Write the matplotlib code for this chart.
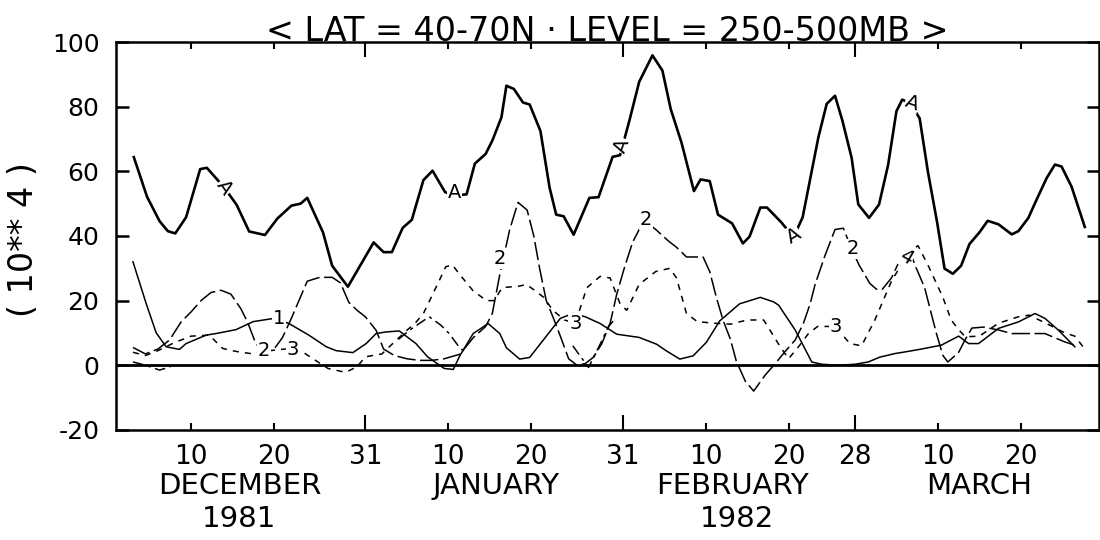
import numpy as np
import matplotlib
matplotlib.use("Agg")
import matplotlib.pyplot as plt

# day 1 = 1 December 1981
plt.rcParams['font.family'] = ['DejaVu Sans']
plt.rcParams['axes.unicode_minus'] = False

# total (A)
days_a = [3.1, 4.7, 6.2, 7.2, 8.1, 9.4, 11.1, 11.9, 14, 15.5, 17, 18.9, 20.4, 22.1, 23.2, 24,
          25.9, 27, 28.9, 32, 33.2, 34.2, 35.5, 36.6, 38, 39.1, 40.6, 41.7, 43.2, 44.2, 45.5,
          46.3, 47.4, 48, 48.9, 50, 50.8, 52.1, 53.2, 54, 54.9, 56.1, 58, 59.1, 60.8, 61.7,
          62.9, 64, 65.6, 66.8, 67.8, 69.1, 70.6, 71.4, 72.5, 73.5, 75.2, 76.5, 77.3, 78.6,
          79.4, 81.1, 82.6, 83.7, 85.6, 86.6, 87.6, 88.5, 89.6, 90.4, 91.7, 92.9, 94, 95,
          95.7, 96.7, 97.8, 98.8, 99.9, 100.8, 101.8, 102.8, 103.8, 105, 106, 107.3, 108.9,
          109.7, 110.9, 111.9, 113.1, 114.1, 114.9, 116.1, 117.7]
vals_a = [64.4, 52.1, 44.6, 41.5, 40.8, 45.8, 60.7, 61.1, 55, 49.6, 41.4, 40.3, 45.4, 49.4, 50,
          51.8, 41.1, 30.8, 24.3, 38, 35, 35, 42.5, 45, 57.3, 60.2, 53.6, 52.5, 52.9, 62.4, 65.4,
          69.5, 76.7, 86.5, 85.5, 81.3, 80.7, 72.5, 55, 46.6, 46.1, 40.4, 51.8, 52, 64.5, 65,
          76.5, 87.7, 95.9, 91.2, 79.3, 68.9, 53.9, 57.5, 57, 46.6, 43.9, 37.7, 39.8, 48.8,
          48.8, 44.3, 39.6, 45.8, 70.6, 80.9, 83.4, 75.6, 64.2, 49.8, 45.6, 49.7, 62, 78.6,
          82.2, 81, 76.4, 59.8, 44.3, 29.9, 28.3, 30.8, 37.5, 41.1, 44.7, 43.6, 40.5,
          41.5, 45.6, 51.3, 57.9, 62.1, 61.5, 55.3, 42.8]

# curve 1 (solid)
days_1 = [3, 4.6, 5.8, 7, 8.6, 9.4, 11.8, 13, 15.4, 17.5, 20, 21.8, 24.2, 26.3, 27.5, 29.5,
          31.1, 32.3, 33.5, 35.1, 37.1, 38.5, 40.5, 41.6, 42.4, 44, 45.8, 47.2, 48, 49.6, 50.8,
          53.3, 54.5, 56, 57.5, 59.3, 61.3, 64, 66.1, 67.3, 68.9, 70.5, 72.1, 73.7, 76.1, 78.6,
          80.2, 80.8, 82.8, 84.8, 86, 88, 90, 91.6, 93, 94.8, 96, 98, 100.4, 102.5, 103.7,
          104.9, 107.3, 109.7, 111.7, 112.9, 114.5, 116.5]
vals_1 = [32, 19, 10, 5.7, 4.9, 6.7, 9.3, 9.8, 11, 13.5, 14.5, 12.9, 9.3, 5.7, 4.5, 3.9,
          6.7, 9.8, 10.3, 10.6, 6.7, 2.6, -1, -1.3, 3, 9.8, 12.9, 9.8, 5.4, 1.9, 2.4,
          10.6, 14.5, 16, 15, 12.9, 9.6, 8.6, 6.5, 4.4, 1.9, 2.9, 7.1, 13.7, 19, 21,
          19.6, 18.6, 10.9, 1, 0.3, 0, 0.3, 1, 2.5, 3.6, 4.1, 5, 6.2, 9, 6.7,
          6.7, 11.4, 13.4, 16, 14.5, 10.9, 5.7]

# curve 2 (long dash)
days_2 = [3, 4.5, 6, 7.4, 8.8, 10, 11.2, 12.4, 13.6, 14.8, 16, 16.8, 17.8, 18.8, 20, 21, 22,
          23, 24, 25.5, 27, 28, 29, 30, 31, 32.3, 33.2, 34.5, 36, 37.5, 39, 40.5, 42.4, 44,
          45.5, 46.3, 47.2, 48.4, 49.4, 50.5, 51.3, 52, 52.8, 53.6, 54.5, 55.5, 56.5, 57.5,
          58.5, 59.5, 60.5, 61.3, 62.2, 63.2, 64.2, 65, 66, 67.5, 68.5, 69.7, 71.7, 72.5,
          73.3, 74.1, 75, 75.7, 76.8, 77.8, 79.2, 80.4, 81.5, 82.8, 83.8, 84.6, 85.2, 86.4,
          87.6, 88.6, 89.6, 90.5, 91.8, 92.6, 93.3, 94.4, 95.5, 96.5, 97.4, 98.4, 99.8,
          100.6, 101.2, 102.5, 103.3, 104.1, 105.5, 107.3, 108.9, 110.5, 112.9, 115.3, 116.5]
vals_2 = [5.5, 3.5, 5, 7.8, 13.4, 16.5, 20, 22.5, 23.2, 22, 17.5, 13.4, 6.7, 4, 5, 8.5, 14,
          20, 26, 27.2, 27.2, 25.5, 19.5, 17, 15, 10.8, 5, 3, 2, 1.5, 1.5, 2, 3.4, 8.5,
          12, 16, 28, 42, 50.4, 48, 40, 30, 20, 15, 9, 2, 0, 0.5,
          2.5, 6.7, 13, 22, 30, 38, 43, 44, 42, 38.5, 36.5, 33.5, 33.5, 29,
          21, 14, 8, 1.3, -5, -8, -3, 0.5, 4, 7.8, 13, 19, 25, 34,
          42, 42.4, 36, 31, 25.3, 23.5, 23.5, 27, 33, 36, 30, 24, 10,
          3, 1, 4, 8, 11.5, 11.8, 10.9, 9.8, 9.8, 9.8, 7.2, 6.2]

# curve 3 (short dash)
days_3 = [3, 4.5, 6, 8, 10, 12.2, 13.8, 14.8, 15.8, 17.5, 19.5, 22, 23.5, 25, 26.5, 28.6, 30,
          31, 33, 34.3, 36, 37, 38, 39.5, 40.7, 41.5, 42.4, 44, 45.6, 46.5, 47.5, 49.6, 50.4,
          51.5, 52.5, 53.6, 55, 56.3, 57.7, 59.3, 60.5, 61.7, 62.5, 64, 66, 67.7, 68.5, 69.7,
          71, 73, 75, 77, 79, 81, 82, 83.2, 84.4, 85.5, 87.6, 89.4, 90.8, 92.4, 94.4, 96.5,
          97.6, 98.8, 100.6, 101.6, 102.5, 103.3, 105, 107.3, 109.7, 111, 113, 115.3, 116.5,
          117.7]
vals_3 = [4, 3, 4.5, 7, 9, 9.3, 5.2, 4.6, 4.1, 3.5, 4.5, 5.2, 4, 1.5, -1, -2.2, -0.5,
          2.6, 3.5, 6.7, 10.8, 13, 16, 24, 30.5, 31, 28, 23, 20, 20, 24, 24.5, 25,
          23, 21, 17, 14, 13, 24, 27.5, 27, 19, 17, 25, 29, 30, 27, 16,
          13.5, 13, 12.7, 14, 14, 5.7, 2, 5.7, 9.8, 12, 12, 6.7, 6, 14, 26, 35,
          37, 31, 21, 14, 11, 8.8, 9, 13, 15, 15.5, 13, 10, 9,
          5]

# curve 4 (dash-dot), only where it can be seen
days_4 = [3, 4.5, 6.2, 7.5, np.nan, 35, 36.3, 38.7, 40.1, 41.1, 42.2, 43.2, np.nan,
          56, 57.9, 59.3, 60.3, 61]
vals_4 = [1, 0, -1.5, -0.5, np.nan, 8, 10.8, 15, 12.4, 9.8, 6, 3.4, np.nan,
          6, -0.7, 6.5, 12, 14]

tick_days = [10, 20, 31, 41, 51, 62, 72, 82, 90, 100, 110]
tick_labels = ['10', '20', '31', '10', '20', '31', '10', '20', '28', '10', '20']
month_ends = [31, 62, 90]

fig = plt.figure(figsize=(11, 5.4), dpi=100)
ax = fig.add_axes([0.1055, 0.204, 0.8935, 0.718])

ax.plot(days_a, vals_a, color='black', lw=1.9)
ax.plot(days_1, vals_1, color='black', lw=1.1)
ax.plot(days_2, vals_2, color='black', lw=1.1, dashes=(12, 3))
ax.plot(days_3, vals_3, color='black', lw=1.1, dashes=(4, 4))
ax.plot(days_4, vals_4, color='black', lw=1.1, dashes=(7, 3, 2, 3))
ax.axhline(0, color='black', lw=2)

# curve labels
lab_kw = dict(fontsize=14, ha='center', va='center',
              bbox=dict(facecolor='white', edgecolor='none', pad=0.5))
for x, y, r in [(14, 55, -55), (41.7, 53.5, 0), (61.9, 68, 70), (82.6, 40, 30), (96.9, 81, -20)]:
    ax.text(x, y, 'A', rotation=r, **lab_kw)
ax.text(20.6, 14.5, '1', **lab_kw)
for x, y in [(18.8, 4.5), (47.2, 33), (64.8, 45), (89.7, 36)]:
    ax.text(x, y, '2', **lab_kw)
for x, y in [(22.3, 5), (56.3, 13), (87.7, 12)]:
    ax.text(x, y, '3', **lab_kw)
ax.text(96.2, 33.5, '4', rotation=-30, **lab_kw)

ax.set_xlim(0.96, 119.4)
ax.set_ylim(-20, 100)
ax.set_yticks(range(-20, 101, 20))
ax.set_xticks(tick_days)
ax.set_xticklabels(tick_labels)
ax.tick_params(axis='y', direction='in', length=9, width=1.8, labelsize=18, pad=12,
               right=True)
ax.tick_params(axis='x', direction='in', length=5, width=1.5, labelsize=19, pad=10,
               top=True)
for t in ax.xaxis.get_major_ticks():
    if t.get_loc() in month_ends:
        t.tick1line.set_markersize(11)
        t.tick2line.set_markersize(11)
for s in ax.spines.values():
    s.set_linewidth(1.8)

ax.set_title('< LAT = 40-70N \u00b7 LEVEL = 250-500MB >', fontsize=24, pad=1, x=0.5)
ax.text(-0.094, 0.49, '( 10** 4 )', rotation=90, fontsize=24, ha='center', va='center',
        transform=ax.transAxes)

for x, y, s in [(0.218, 0.1, 'DECEMBER'), (0.451, 0.1, 'JANUARY'), (0.666, 0.1, 'FEBRUARY'),
                (0.89, 0.1, 'MARCH'), (0.217, 0.039, '1981'), (0.67, 0.039, '1982')]:
    fig.text(x, y, s, fontsize=21, ha='center', va='center')

fig.savefig('out.png', dpi=100)
